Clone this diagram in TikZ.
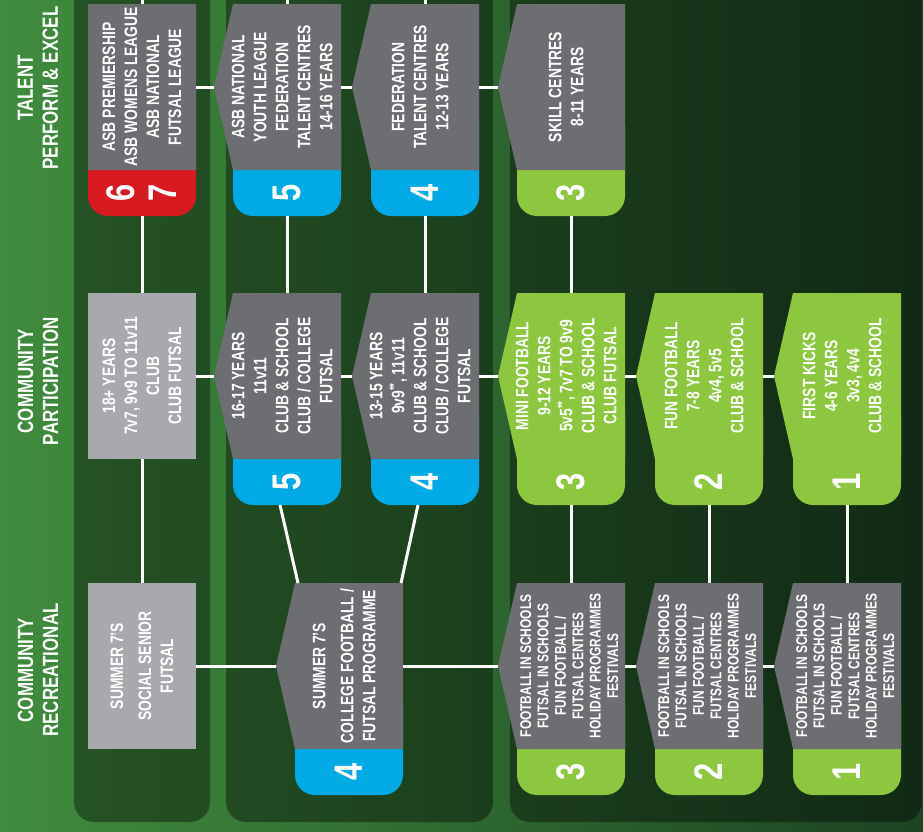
\documentclass[tikz,border=0pt]{standalone}
\usepackage{fontspec}
\usepackage{xcolor}
\usepackage{tikz}
\usetikzlibrary{calc,positioning}
\newfontfamily\cond{Liberation Sans}[FakeStretch=0.77]

\definecolor{fieldL}{RGB}{64,140,62}
\definecolor{fieldR}{RGB}{28,68,34}
\definecolor{boxgray}{RGB}{109,110,113}
\definecolor{boxlight}{RGB}{167,169,172}
\definecolor{tabred}{RGB}{215,25,32}
\definecolor{tabblue}{RGB}{0,170,228}
\definecolor{tabgreen}{RGB}{141,198,63}

\tikzset{
  boxtext/.style={rotate=90,align=center,text=white,inner sep=0pt,
    font=\cond\bfseries\fontsize{18}{22}\selectfont},
  smalltext/.style={yshift=-3pt,font=\cond\bfseries\fontsize{15.5}{17.4}\selectfont},
  numtext/.style={rotate=90,align=center,text=white,inner sep=0pt,
    font=\cond\bfseries\fontsize{40}{42}\selectfont},
  rowlabel/.style={rotate=90,align=center,text=white,inner sep=0pt,
    font=\cond\bfseries\fontsize{22}{25}\selectfont},
  link/.style={draw=white,line width=3pt},
  panel/.style={fill=black,fill opacity=0.38,rounded corners=20pt}
}

% stage box: [text style] name, left x, top y, point depth, body colour, tab colour, number, text
\newcommand{\stagebox}[9][]{%
  \fill[#7,rounded corners=20pt] (#3,#4+120) -- (#3,#4+212) -- (#3+108,#4+212) -- (#3+108,#4+120);
  \fill[#6] (#3,#4) -- (#3+108,#4) -- (#3+108,#4+166) -- (#3,#4+166) -- (#3-#5,#4+83) -- cycle;
  \coordinate (#2-w) at (#3-#5,#4+83);
  \coordinate (#2-e) at (#3+108,#4+83);
  \coordinate (#2-n) at (#3+54,#4);
  \coordinate (#2-s) at (#3+54,#4+212);
  \coordinate (#2-nw) at (#3+3,#4);
  \coordinate (#2-ne) at (#3+106,#4);
  \node[boxtext,#1] (#2-txt) at (#3+54-#5/4,#4+83) {#9};
  \node[numtext] (#2-num) at (#3+54,#4+189) {#8};
}
% plain box: name, left x, top y, text
\newcommand{\plainbox}[4]{%
  \fill[boxlight] (#2,#3) rectangle (#2+108,#3+166);
  \coordinate (#1-e) at (#2+108,#3+83);
  \coordinate (#1-n) at (#2+54,#3);
  \coordinate (#1-s) at (#2+54,#3+166);
  \node[boxtext] (#1-txt) at (#2+54,#3+83) {#4};
}

\begin{document}
\begin{tikzpicture}[x=1pt,y=-1pt,line cap=butt,line join=miter]
\useasboundingbox (0,0) rectangle (923,831);
% field and column panels
\shade[left color=fieldL,right color=fieldR] (0,0) rectangle (923,831);
\fill[panel] (74,-30) rectangle (210,822);
\fill[panel] (226,-30) rectangle (493,822);
\fill[panel] (510,-30) rectangle (922,822);

% row labels
\node[rowlabel] (lab1) at (38,88) {TALENT\\PERFORM \& EXCEL};
\node[rowlabel] (lab2) at (38,381) {COMMUNITY\\PARTICIPATION};
\node[rowlabel] (lab3) at (38,670) {COMMUNITY\\RECREATIONAL};

% row 1 : talent
\stagebox{b16}{88}{4}{0}{boxgray}{tabred}{6\\7}{ASB PREMIERSHIP\\ASB WOMENS LEAGUE\\ASB NATIONAL\\FUTSAL LEAGUE}
\stagebox{b15}{233}{4}{19}{boxgray}{tabblue}{5}{ASB NATIONAL\\YOUTH LEAGUE\\FEDERATION\\TALENT CENTRES\\14-16 YEARS}
\stagebox{b14}{371}{4}{19}{boxgray}{tabblue}{4}{FEDERATION\\TALENT CENTRES\\12-13 YEARS}
\stagebox{b13}{517}{4}{19}{boxgray}{tabgreen}{3}{SKILL CENTRES\\8-11 YEARS}

% row 2 : participation
\plainbox{p21}{88}{293}{18+ YEARS\\7v7, 9v9 TO 11v11\\CLUB\\CLUB FUTSAL}
\stagebox{b25}{233}{293}{19}{boxgray}{tabblue}{5}{16-17 YEARS\\11v11\\CLUB \& SCHOOL\\CLUB / COLLEGE\\FUTSAL}
\stagebox{b24}{371}{293}{19}{boxgray}{tabblue}{4}{13-15 YEARS\\9v9\textsuperscript{**}, 11v11\\CLUB \& SCHOOL\\CLUB / COLLEGE\\FUTSAL}
\stagebox{b23}{517}{293}{19}{tabgreen}{tabgreen}{3}{MINI FOOTBALL\\9-12 YEARS\\5v5\textsuperscript{**}, 7v7 TO 9v9\\CLUB \& SCHOOL\\CLUB FUTSAL}
\stagebox{b22}{655}{293}{19}{tabgreen}{tabgreen}{2}{FUN FOOTBALL\\7-8 YEARS\\4v4, 5v5\\CLUB \& SCHOOL}
\stagebox{b21}{793}{293}{19}{tabgreen}{tabgreen}{1}{FIRST KICKS\\4-6 YEARS\\3v3, 4v4\\CLUB \& SCHOOL}

% row 3 : recreational
\plainbox{p31}{88}{583}{SUMMER 7’S\\[6pt]SOCIAL SENIOR\\FUTSAL}
\stagebox{b34}{295}{583}{19}{boxgray}{tabblue}{4}{SUMMER 7’S\\[6pt]COLLEGE FOOTBALL /\\FUTSAL PROGRAMME}
\stagebox[smalltext]{b33}{517}{583}{19}{boxgray}{tabgreen}{3}{FOOTBALL IN SCHOOLS\\FUTSAL IN SCHOOLS\\FUN FOOTBALL /\\FUTSAL CENTRES\\HOLIDAY PROGRAMMES\\FESTIVALS}
\stagebox[smalltext]{b32}{655}{583}{19}{boxgray}{tabgreen}{2}{FOOTBALL IN SCHOOLS\\FUTSAL IN SCHOOLS\\FUN FOOTBALL /\\FUTSAL CENTRES\\HOLIDAY PROGRAMMES\\FESTIVALS}
\stagebox[smalltext]{b31}{793}{583}{19}{boxgray}{tabgreen}{1}{FOOTBALL IN SCHOOLS\\FUTSAL IN SCHOOLS\\FUN FOOTBALL /\\FUTSAL CENTRES\\HOLIDAY PROGRAMMES\\FESTIVALS}

% links
\coordinate (top1) at (142,0);
\coordinate (top2) at (287,0);
\coordinate (top3) at (425,0);
\draw[link] (top1) -- (b16-n);
\draw[link] (top2) -- (b15-n);
\draw[link] (top3) -- (b14-n);
\draw[link] (b16-e) -- (b15-w);
\draw[link] (b15-e) -- (b14-w);
\draw[link] (b14-e) -- (b13-w);
\draw[link] (b16-s) -- (p21-n);
\draw[link] (b15-s) -- (b25-n);
\draw[link] (b14-s) -- (b24-n);
\draw[link] (b13-s) -- (b23-n);
\draw[link] (p21-e) -- (b25-w);
\draw[link] (b25-e) -- (b24-w);
\draw[link] (b24-e) -- (b23-w);
\draw[link] (b23-e) -- (b22-w);
\draw[link] (b22-e) -- (b21-w);
\draw[link] (p21-s) -- (p31-n);
\draw[link] ([xshift=-7pt]b25-s) -- (b34-nw);
\draw[link] ([xshift=-7pt]b24-s) -- (b34-ne);
\draw[link] (b23-s) -- (b33-n);
\draw[link] (b22-s) -- (b32-n);
\draw[link] (b21-s) -- (b31-n);
\draw[link] (p31-e) -- (b34-w);
\draw[link] (b34-e) -- (b33-w);
\draw[link] (b33-e) -- (b32-w);
\draw[link] (b32-e) -- (b31-w);
\end{tikzpicture}
\end{document}
